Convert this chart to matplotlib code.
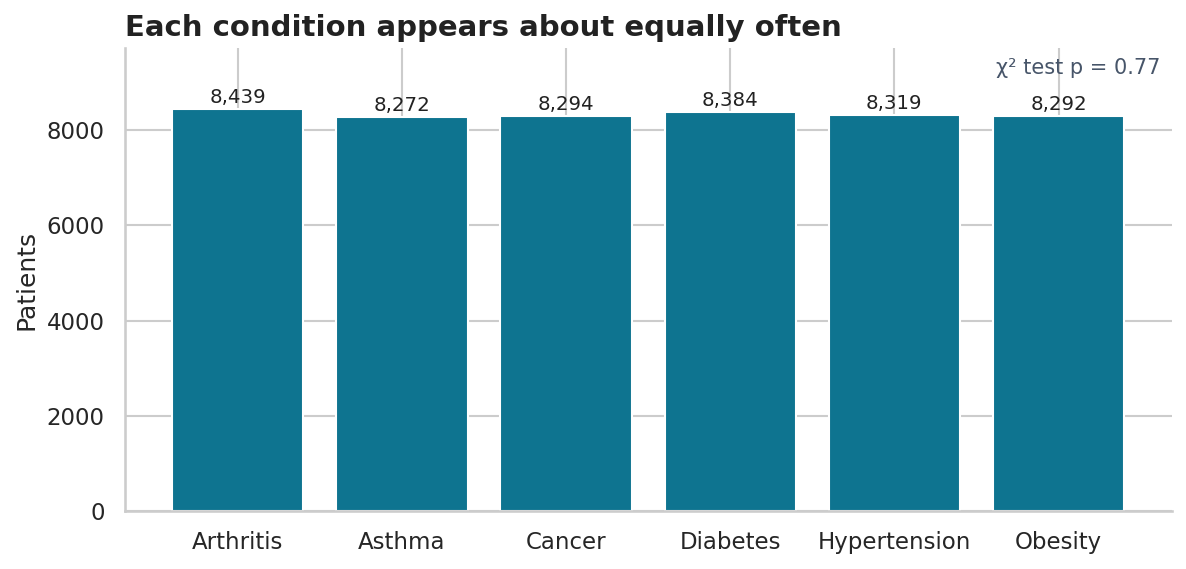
import matplotlib
matplotlib.use("Agg")
import matplotlib.pyplot as plt
import seaborn as sns

categories = ["Arthritis", "Asthma", "Cancer", "Diabetes", "Hypertension", "Obesity"]
patients = [8439, 8272, 8294, 8384, 8319, 8292]
p_value = 0.77

sns.set_theme(style="whitegrid")
plt.rcParams['font.family'] = ['DejaVu Sans']

fig, ax = plt.subplots(figsize=(1186/150, 569/150), dpi=150)
bars = ax.bar(categories, patients, color="#0e7490", width=0.8, zorder=2)
for b, v in zip(bars, patients):
    ax.text(b.get_x() + b.get_width()/2, v + 40, f"{v:,}", ha="center", va="bottom",
            fontsize=9.5, color="#222222")
ax.set_ylim(0, max(patients) * 1.152)
ax.set_ylabel("Patients", fontsize=12)
ax.set_title("Each condition appears about equally often", loc="left",
             fontweight="bold", fontsize=14, color="#222222")
ax.text(0.989, 0.98, f"χ² test p = {p_value:.2f}", transform=ax.transAxes,
        ha="right", va="top", fontsize=10, color="#475569")
ax.tick_params(axis="both", labelsize=11)
sns.despine(ax=ax)
fig.subplots_adjust(left=0.105, right=0.988, top=0.915, bottom=0.102)
fig.savefig("out.png", dpi=150)
